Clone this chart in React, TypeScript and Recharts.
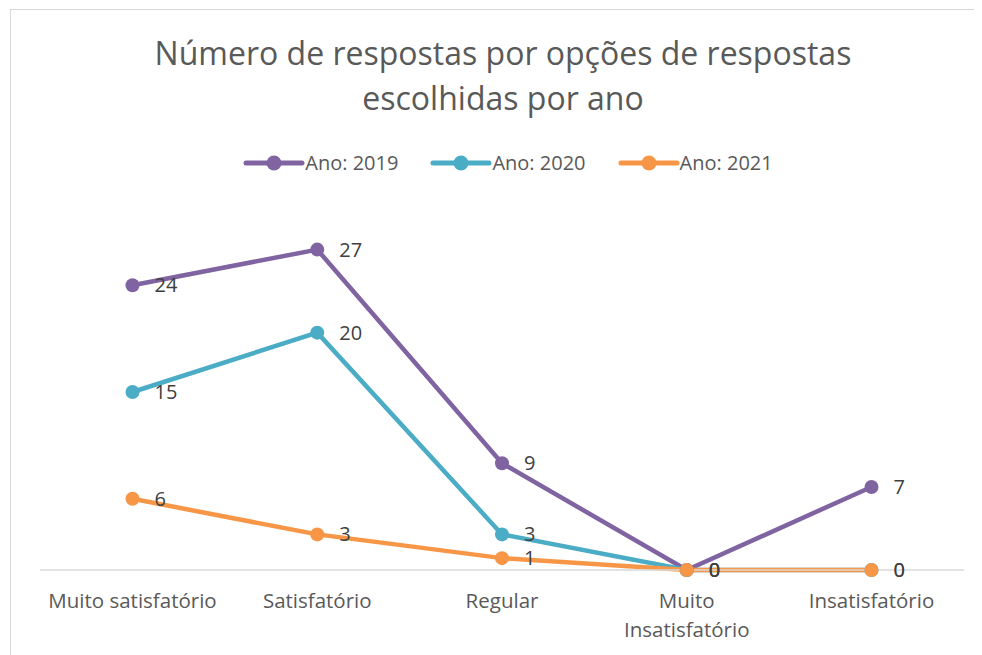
import { LineChart, Line, XAxis, YAxis, Legend, LabelList } from 'recharts'

const categorias = ['Muito satisfatório', 'Satisfatório', 'Regular', 'Muito Insatisfatório', 'Insatisfatório']
const rotulos = [['Muito satisfatório'], ['Satisfatório'], ['Regular'], ['Muito', 'Insatisfatório'], ['Insatisfatório']]
const ano2019 = [24, 27, 9, 0, 7]
const ano2020 = [15, 20, 3, 0, 0]
const ano2021 = [6, 3, 1, 0, 0]

const series = [
    { key: 'a2019', name: 'Ano: 2019', color: '#8064A2' },
    { key: 'a2020', name: 'Ano: 2020', color: '#4BACC6' },
    { key: 'a2021', name: 'Ano: 2021', color: '#F79646' }
]

const data = categorias.map((c, i) => ({
    categoria: c,
    a2019: ano2019[i],
    a2020: ano2020[i],
    a2021: ano2021[i]
}))

const font = '"Open Sans", sans-serif'

const Tick = (props: any) => {
    const { x, y, index } = props
    const lines = rotulos[index] || []
    return (
        <text x={x} y={y + 30} textAnchor="middle" fill="#595959" fontSize={20.5} fontFamily={font}>
            {lines.map((l, i) => (
                <tspan key={i} x={x} dy={i === 0 ? 0 : 29}>{l}</tspan>
            ))}
        </text>
    )
}

const Rotulo = (props: any) => {
    const { x, y, value } = props
    return (
        <text x={x + 22} y={y} dy={7} fill="#404040" fontSize={20} fontFamily={font}>
            {value}
        </text>
    )
}

const Legenda = () => (
    <div style={{ display: 'flex', justifyContent: 'center', gap: 32, fontFamily: font, fontSize: 20, color: '#595959' }}>
        {series.map(s => (
            <div key={s.key} style={{ display: 'flex', alignItems: 'center' }}>
                <svg width={62} height={20}>
                    <line x1={3} y1={10} x2={59} y2={10} stroke={s.color} strokeWidth={5} strokeLinecap="round" />
                    <circle cx={31} cy={10} r={7.5} fill={s.color} />
                </svg>
                <span>{s.name}</span>
            </div>
        ))}
    </div>
)

export default function App() {
    return (
        <div style={{ position: 'relative', width: 964, height: 660, marginLeft: 2, marginTop: 1, border: '1px solid #d9d9d9', borderBottom: 'none', overflow: 'hidden' }}>
            <div style={{ position: 'absolute', top: 20, left: 0, width: 984, textAlign: 'center', fontFamily: font, fontSize: 32, lineHeight: '45px', color: '#595959' }}>
                Número de respostas por opções de respostas<br />escolhidas por ano
            </div>
            <LineChart width={964} height={650} data={data} margin={{ top: 204, right: 11, left: 29, bottom: 10 }}>
                <XAxis
                    dataKey="categoria"
                    height={80}
                    interval={0}
                    tickLine={false}
                    axisLine={{ stroke: '#d9d9d9', strokeWidth: 1.5 }}
                    padding={{ left: 92.5, right: 92.5 }}
                    tick={<Tick />}
                />
                <YAxis hide domain={[0, 30]} />
                <Legend
                    verticalAlign="middle"
                    layout="horizontal"
                    content={<Legenda />}
                    wrapperStyle={{ position: 'absolute', top: 139, left: 0, width: 994 }}
                />
                {series.map(s => (
                    <Line
                        key={s.key}
                        dataKey={s.key}
                        name={s.name}
                        stroke={s.color}
                        strokeWidth={4.5}
                        dot={{ r: 7, fill: s.color, stroke: s.color, strokeWidth: 0 }}
                        isAnimationActive={false}
                    >
                        <LabelList dataKey={s.key} content={<Rotulo />} />
                    </Line>
                ))}
            </LineChart>
        </div>
    )
}
